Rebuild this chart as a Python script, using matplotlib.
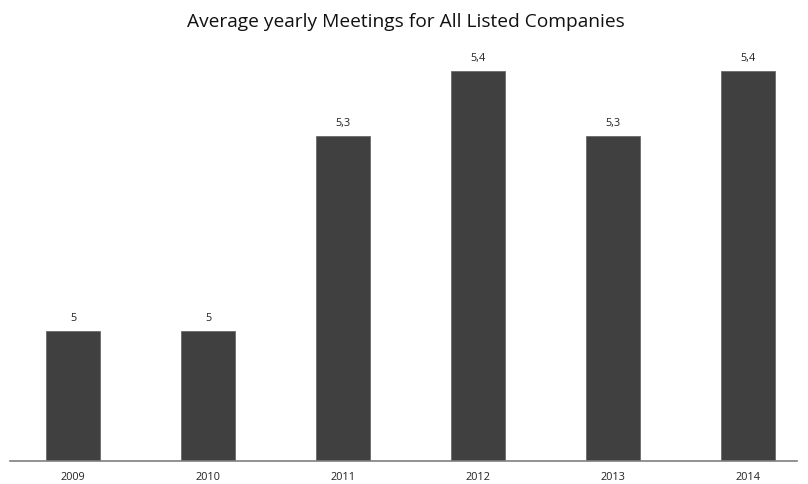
import matplotlib
matplotlib.use('Agg')
import matplotlib.pyplot as plt

# Yearly averages
years = ['2009', '2010', '2011', '2012', '2013', '2014']
meetings = [5.0, 5.0, 5.3, 5.4, 5.3, 5.4]
value_labels = ['5', '5', '5,3', '5,4', '5,3', '5,4']

plt.rcParams['font.family'] = ['Open Sans', 'DejaVu Sans']

fig = plt.figure(figsize=(8.08, 4.85), dpi=100)
W, H = 808, 485
left, right, bottom, top = 10, 797, 462, 39.5
ax = fig.add_axes([left / W, (H - bottom) / H, (right - left) / W, (bottom - top) / H])

x = list(range(len(years)))
ax.bar(x, meetings, width=0.4, bottom=0, color='#404040', edgecolor='#6a6a6a', linewidth=0.6)
for xi, v, lab in zip(x, meetings, value_labels):
    ax.text(xi, v + 0.012, lab, ha='center', va='bottom', fontsize=7.8, color='#222222')

ax.set_ylim(4.8, 5.45)
ax.set_xlim(-0.467, 5.363)
ax.set_xticks(x)
ax.set_xticklabels(years, fontsize=7.8, color='#222222')
ax.tick_params(axis='x', length=0, pad=7)
ax.set_yticks([])
for s in ['left', 'right', 'top']:
    ax.spines[s].set_visible(False)
ax.spines['bottom'].set_color('#7f7f7f')
ax.spines['bottom'].set_linewidth(1.2)

fig.text(405.5 / W, 1 - 22 / H, 'Average yearly Meetings for All Listed Companies',
         ha='center', va='center', fontsize=13.8, color='#111111')

fig.savefig('out.png', dpi=100)
